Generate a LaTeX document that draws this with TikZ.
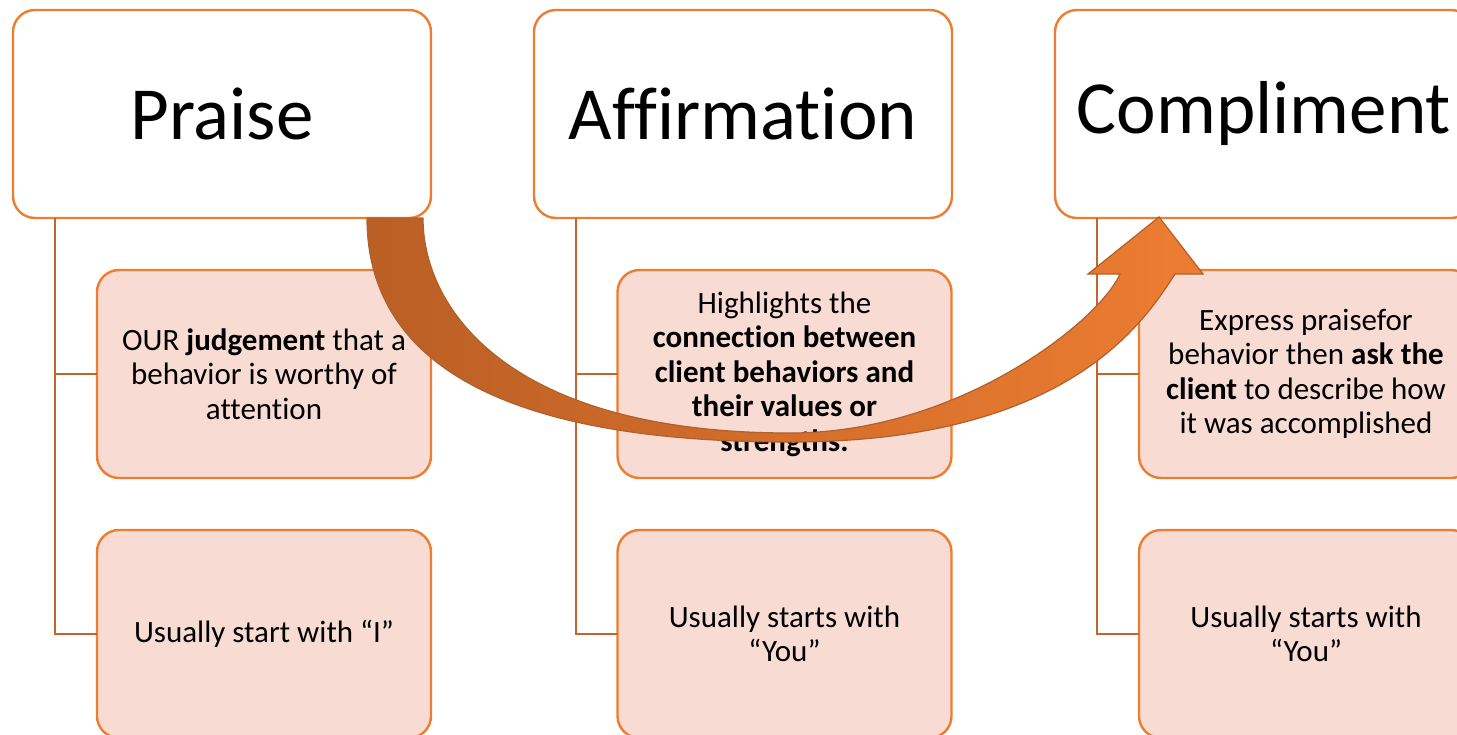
\documentclass[tikz,border=0pt]{standalone}
\usepackage{fontspec}
\setmainfont{Carlito}[Ligatures=NoCommon]
\usetikzlibrary{calc}
\definecolor{boxline}{HTML}{ED7D31}
\definecolor{boxfill}{HTML}{F8DBD3}
\definecolor{connline}{HTML}{C4652B}
\definecolor{arrowdark}{HTML}{BA5F25}
\definecolor{arroworange}{HTML}{ED7D31}
\definecolor{arrowedge}{HTML}{B2602B}
\begin{document}
\begin{tikzpicture}[x=1pt,y=-1pt,
  headbox/.style={draw=boxline, fill=white, line width=2.4pt, rounded corners=22pt,
    minimum width=418pt, minimum height=208pt, inner sep=0pt, outer sep=0pt,
    font=\fontsize{75}{90}\selectfont},
  childbox/.style={draw=boxline, fill=boxfill, line width=2.4pt, rounded corners=22pt,
    minimum width=334pt, minimum height=208pt, inner sep=0pt, outer sep=0pt, align=center,
    font=\fontsize{31}{34.5}\selectfont},
  conn/.style={draw=connline, line width=2.4pt},
  bigarrow/.style={left color=arrowdark, right color=arroworange, draw=arrowedge,
    line width=1.2pt, line join=miter}]
\useasboundingbox (0,0) rectangle (1457,734);
\clip (0,0) rectangle (1457,734);

% header boxes
\node[headbox] (praise) at (222,114) {Praise};
\node[headbox] (affirm) at (743,114) {Affirmation};
\node[headbox] (compl)  at (1264,114) {Compliment};

% child boxes
\node[childbox] (p1) at (264,374) {OUR \textbf{judgement} that a\\behavior is worthy of\\attention};
\node[childbox] (p2) at (264,634) {Usually start with “I”};
\node[childbox] (a1) at (784.5,374) {Highlights the\\\textbf{connection between}\\\textbf{client behaviors and}\\\textbf{their values or}\\\textbf{strengths.}};
\node[childbox] (a2) at (784.5,634) {Usually starts with\\“You”};
\node[childbox] (c1) at (1306,374) {Express praisefor\\behavior then \textbf{ask the}\\\textbf{client} to describe how\\it was accomplished};
\node[childbox] (c2) at (1306,634) {Usually starts with\\“You”};

% connectors
\draw[conn] ($(praise.south west)+(42,0)$) |- (p2.west);
\draw[conn] ($(praise.south west)+(42,0)$) |- (p1.west);
\draw[conn] ($(affirm.south west)+(42,0)$) |- (a2.west);
\draw[conn] ($(affirm.south west)+(42,0)$) |- (a1.west);
\draw[conn] ($(compl.south west)+(42,0)$) |- (c2.west);
\draw[conn] ($(compl.south west)+(42,0)$) |- (c1.west);

% curved arrow
\shadedraw[bigarrow]
 (367,218) .. controls (367,350) and (480,442) .. (790,442)
 .. controls (1070,442) and (1145,320) .. (1175,274)
 -- (1203,274) -- (1159,217) -- (1088,274) -- (1120,274)
 .. controls (1100,320) and (960,433) .. (790,433)
 .. controls (510,433) and (423,310) .. (423,218) -- cycle;
\end{tikzpicture}
\end{document}
